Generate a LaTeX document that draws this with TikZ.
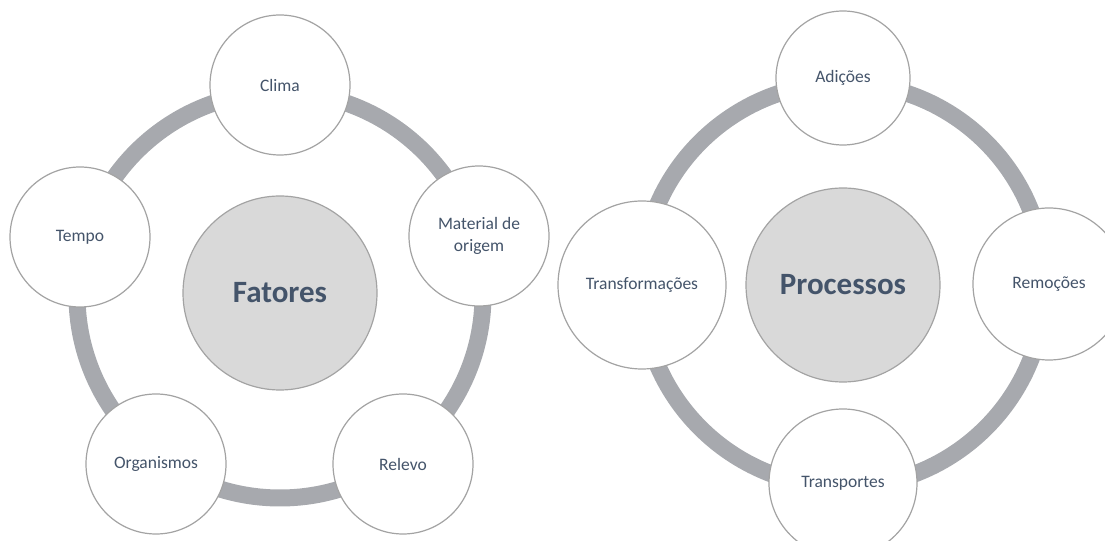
\documentclass[tikz,border=0pt]{standalone}
\usepackage{fontspec}
\setmainfont{Carlito}

\definecolor{ringgray}{HTML}{A7A9AE}
\definecolor{labelblue}{HTML}{44546A}
\definecolor{hubfill}{HTML}{D9D9D9}
\definecolor{edgegray}{HTML}{A3A3A3}

\begin{document}
\begin{tikzpicture}[
        x=0.5pt, y=0.5pt,
        hub/.style={circle, draw=edgegray, fill=hubfill, line width=0.6pt, inner sep=0pt,
            text=labelblue, font=\fontsize{15.5}{18}\selectfont\bfseries},
        item/.style={circle, draw=edgegray, fill=white, line width=0.6pt, inner sep=0pt,
            text=labelblue, align=center, font=\fontsize{8.75}{10.7}\selectfont},
        cycle/.style={ringgray, line width=8.5pt}
    ]
        \clip (0,0) rectangle (1105,541);

        % Rings behind the circles
        \coordinate (fcenter) at (280,246);
        \coordinate (pcenter) at (843,256);
        \draw[cycle] (fcenter) circle (203);
        \draw[cycle] (pcenter) circle (202);

        % Fatores
        \node[hub, minimum size=97pt] (fatores) at (280,248) {Fatores};
        \node[item, minimum size=70pt] (clima) at (280,456) {Clima};
        \node[item, minimum size=70pt] (material) at (479,305) {Material de\\origem};
        \node[item, minimum size=70pt] (relevo) at (403,77) {Relevo};
        \node[item, minimum size=70pt] (organismos) at (156,77) {Organismos};
        \node[item, minimum size=70pt] (tempo) at (80,304) {Tempo};

        % Processos
        \node[hub, minimum size=97pt] (processos) at (843,256) {Processos};
        \node[item, minimum size=67pt] (adicoes) at (843,463) {Adições};
        \node[item, minimum size=76pt] (remocoes) at (1049,257) {Remoções};
        \node[item, minimum size=74pt] (transportes) at (843,58) {Transportes};
        \node[item, minimum size=84pt] (transformacoes) at (642,256) {Transformações};
    \end{tikzpicture}
\end{document}
